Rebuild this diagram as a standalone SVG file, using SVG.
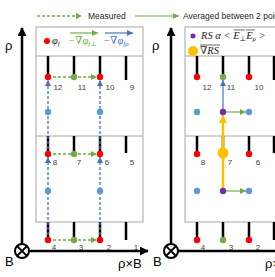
<svg xmlns="http://www.w3.org/2000/svg" width="275" height="277" viewBox="0 0 275 277">
<defs>
<style>
.box{fill:none;stroke:#A6A6A6;stroke-width:1}
.stick{stroke:#000;stroke-width:2.5}
.ax{stroke:#000;stroke-width:2.5;fill:none}
.lbl{font-family:"Liberation Sans",Arial,sans-serif;font-size:8px;fill:#404040;text-anchor:middle}
.leg{font-family:"Liberation Sans",Arial,sans-serif;font-size:8.5px;fill:#262626}
.axl{font-family:"Liberation Sans",Arial,sans-serif;font-size:13px;fill:#000}
.math{font-family:"Liberation Serif","DejaVu Serif",serif;font-style:italic;font-size:10.5px}
.sub{font-size:7px}
.red{fill:#FF0000}.grn{fill:#70AD47}.blu{fill:#5B9BD5}.pur{fill:#7030A0}.yel{fill:#FFC000}
.gd{stroke:#70AD47;stroke-width:1.3;stroke-dasharray:3 2;fill:none}
.bd{stroke:#4472C4;stroke-width:1.3;stroke-dasharray:3 2;fill:none}
.gs{stroke:#70AD47;stroke-width:1.2;fill:none}
.bs{stroke:#4472C4;stroke-width:1.2;fill:none}
.ys{stroke:#FFC000;stroke-width:2.5;fill:none}
</style>
<marker id="ag" viewBox="0 0 10 10" refX="10" refY="5" markerWidth="6" markerHeight="6" markerUnits="userSpaceOnUse" orient="auto"><path d="M0,0 L10,5 L0,10 z" fill="#70AD47"/></marker>
<marker id="ab" viewBox="0 0 10 10" refX="10" refY="5" markerWidth="6" markerHeight="6" markerUnits="userSpaceOnUse" orient="auto"><path d="M0,0 L10,5 L0,10 z" fill="#4472C4"/></marker>
<marker id="ay" viewBox="0 0 10 10" refX="10" refY="5" markerWidth="8" markerHeight="8" markerUnits="userSpaceOnUse" orient="auto"><path d="M0,0 L10,5 L0,10 z" fill="#FFC000"/></marker>
<marker id="ak" viewBox="0 0 10 10" refX="9" refY="5" markerWidth="9" markerHeight="9" markerUnits="userSpaceOnUse" orient="auto"><path d="M0,0 L10,5 L0,10 z" fill="#000"/></marker>
</defs>
<rect width="275" height="277" fill="#fff"/>

<!-- top legend -->
<g id="legend-top">
<line class="gd" x1="37" y1="16" x2="82" y2="16" marker-end="url(#ag)"/>
<text class="leg" x="88" y="19">Measured</text>
<line class="gs" x1="135" y1="16" x2="179" y2="16" marker-end="url(#ag)"/>
<text class="leg" x="183" y="19">Averaged between 2 points</text>
</g>

<!-- left panel frame -->
<g id="left-frame">
<rect class="box" x="36" y="27" width="107" height="195"/>
<line class="box" x1="36" y1="56" x2="143" y2="56"/>
<line class="box" x1="36" y1="136" x2="143" y2="136"/>
</g>
<g id="left-legend">
<circle class="red" cx="47" cy="41" r="3"/>
<text class="math" x="52" y="44" fill="#262626">φ<tspan class="sub" dy="2">f</tspan></text>
<line class="gs" x1="70" y1="33" x2="98" y2="33" marker-end="url(#ag)"/>
<text class="math" x="68" y="44" fill="#70AD47">−∇φ<tspan class="sub" dy="2">f⊥</tspan></text>
<line class="bs" x1="105" y1="33" x2="133" y2="33" marker-end="url(#ab)"/>
<text class="math" x="103" y="44" fill="#4472C4">−∇φ<tspan class="sub" dy="2">fρ</tspan></text>
</g>

<!-- right panel frame -->
<g id="right-frame">
<rect class="box" x="185" y="27" width="110" height="195"/>
<line class="box" x1="185" y1="56" x2="275" y2="56"/>
<line class="box" x1="185" y1="136" x2="275" y2="136"/>
</g>
<g id="right-legend">
<circle class="pur" cx="193" cy="36" r="2.5"/>
<text class="math" x="201" y="39" fill="#262626">RS α &lt; E<tspan class="sub" dy="2">⊥</tspan><tspan dy="-2">E</tspan><tspan class="sub" dy="2">ρ</tspan><tspan dy="-2"> &gt;</tspan></text>
<line x1="234" y1="30" x2="245" y2="30" stroke="#262626" stroke-width="0.7"/>
<line x1="246" y1="30" x2="255" y2="30" stroke="#262626" stroke-width="0.7"/>
<circle class="yel" cx="193" cy="51" r="5"/>
<text class="math" x="200" y="54" fill="#262626">∇RS</text>
<line x1="200" y1="45" x2="220" y2="45" stroke="#262626" stroke-width="0.7"/>
</g>

<!-- sticks -->
<g id="sticks">
<line class="stick" x1="48" y1="56" x2="48" y2="77"/>
<line class="stick" x1="74" y1="56" x2="74" y2="77"/>
<line class="stick" x1="100" y1="56" x2="100" y2="77"/>
<line class="stick" x1="126" y1="56" x2="126" y2="80"/>
<line class="stick" x1="48" y1="136" x2="48" y2="154"/>
<line class="stick" x1="74" y1="136" x2="74" y2="154"/>
<line class="stick" x1="100" y1="136" x2="100" y2="154"/>
<line class="stick" x1="126" y1="136" x2="126" y2="153"/>
<line class="stick" x1="48" y1="222" x2="48" y2="240"/>
<line class="stick" x1="74" y1="222" x2="74" y2="240"/>
<line class="stick" x1="100" y1="222" x2="100" y2="240"/>
<line class="stick" x1="126" y1="222" x2="126" y2="240"/>
<line class="stick" x1="197" y1="56" x2="197" y2="77"/>
<line class="stick" x1="223" y1="56" x2="223" y2="77"/>
<line class="stick" x1="249" y1="56" x2="249" y2="77"/>
<line class="stick" x1="274" y1="56" x2="274" y2="80"/>
<line class="stick" x1="197" y1="136" x2="197" y2="154"/>
<line class="stick" x1="223" y1="136" x2="223" y2="154"/>
<line class="stick" x1="249" y1="136" x2="249" y2="154"/>
<line class="stick" x1="274" y1="136" x2="274" y2="153"/>
<line class="stick" x1="197" y1="222" x2="197" y2="240"/>
<line class="stick" x1="223" y1="222" x2="223" y2="240"/>
<line class="stick" x1="249" y1="222" x2="249" y2="240"/>
<line class="stick" x1="274" y1="222" x2="274" y2="240"/>
</g>

<!-- axes -->
<g id="axes">
<line class="ax" x1="22" y1="244" x2="22" y2="28" marker-end="url(#ak)"/>
<line class="ax" x1="29" y1="251" x2="148" y2="251" marker-end="url(#ak)"/>
<circle cx="22" cy="251" r="7" fill="#fff" stroke="#000" stroke-width="2"/>
<path d="M17.5,246.5 L26.5,255.5 M26.5,246.5 L17.5,255.5" stroke="#000" stroke-width="1.8"/>
<line class="ax" x1="171" y1="244" x2="171" y2="28" marker-end="url(#ak)"/>
<line class="ax" x1="178" y1="251" x2="280" y2="251"/>
<circle cx="171" cy="251" r="7" fill="#fff" stroke="#000" stroke-width="2"/>
<path d="M166.5,246.5 L175.5,255.5 M175.5,246.5 L166.5,255.5" stroke="#000" stroke-width="1.8"/>
<text class="axl" x="5" y="50">ρ</text>
<text class="axl" x="5" y="266">B</text>
<text class="axl" x="118" y="268">ρ×B</text>
<text class="axl" x="152" y="50">ρ</text>
<text class="axl" x="153" y="266">B</text>
<text class="axl" x="265" y="268">ρ×B</text>
</g>

<!-- connectors -->
<g id="connectors">
<line class="gd" x1="48" y1="77" x2="97" y2="77" marker-end="url(#ag)"/>
<line class="gd" x1="48" y1="154" x2="97" y2="154" marker-end="url(#ag)"/>
<line class="gd" x1="48" y1="240" x2="97" y2="240" marker-end="url(#ag)"/>
<line class="bd" x1="48" y1="240" x2="48" y2="157" marker-end="url(#ab)"/>
<line class="bd" x1="48" y1="154" x2="48" y2="80" marker-end="url(#ab)"/>
<line class="bd" x1="100" y1="240" x2="100" y2="157" marker-end="url(#ab)"/>
<line class="bd" x1="100" y1="154" x2="100" y2="80" marker-end="url(#ab)"/>
<line class="ys" x1="223" y1="191" x2="223" y2="115" marker-end="url(#ay)"/>
<line class="bs" x1="223" y1="112" x2="223" y2="80" marker-end="url(#ab)"/>
<line class="gs" x1="223" y1="112" x2="246" y2="112" marker-end="url(#ag)"/>
<line class="gs" x1="223" y1="191" x2="246" y2="191" marker-end="url(#ag)"/>
</g>

<!-- nodes (points) -->
<g id="left-points">
<circle class="red" cx="48" cy="77" r="3.2"/><circle class="grn" cx="74" cy="77" r="3.2"/><circle class="red" cx="100" cy="77" r="3.2"/>
<circle class="red" cx="48" cy="154" r="3.2"/><circle class="grn" cx="74" cy="154" r="3.2"/><circle class="red" cx="100" cy="154" r="3.2"/>
<circle class="red" cx="48" cy="240" r="3.2"/><circle class="grn" cx="74" cy="240" r="3.2"/><circle class="red" cx="100" cy="240" r="3.2"/>
<circle class="blu" cx="48" cy="112" r="3.2"/><circle class="blu" cx="100" cy="112" r="3.2"/>
<circle class="blu" cx="48" cy="191" r="3.2"/><circle class="blu" cx="100" cy="191" r="3.2"/>
</g>
<g id="right-points">
<circle class="red" cx="197" cy="77" r="3.2"/><circle class="grn" cx="223" cy="77" r="3.2"/><circle class="red" cx="249" cy="77" r="3.2"/>
<circle class="red" cx="197" cy="154" r="3.2"/><circle class="yel" cx="223" cy="153" r="5.5"/><circle class="red" cx="249" cy="154" r="3.2"/>
<circle class="red" cx="197" cy="240" r="3.2"/><circle class="grn" cx="223" cy="240" r="3.2"/><circle class="red" cx="249" cy="240" r="3.2"/>
<circle class="blu" cx="197" cy="112" r="3.2"/><circle class="pur" cx="223" cy="112" r="3.2"/><circle class="blu" cx="249" cy="112" r="3.2"/>
<circle class="blu" cx="197" cy="191" r="3.2"/><circle class="pur" cx="223" cy="191" r="3.2"/><circle class="blu" cx="249" cy="191" r="3.2"/>
</g>

<!-- labels -->
<g id="labels">
<text class="lbl" x="58" y="90">12</text><text class="lbl" x="82" y="90">11</text><text class="lbl" x="110" y="90">10</text><text class="lbl" x="132" y="90">9</text>
<text class="lbl" x="55" y="165">8</text><text class="lbl" x="79" y="165">7</text><text class="lbl" x="107" y="165">6</text><text class="lbl" x="132" y="165">5</text>
<text class="lbl" x="54" y="250">4</text><text class="lbl" x="81" y="250">3</text><text class="lbl" x="109" y="250">2</text><text class="lbl" x="136" y="250">1</text>
<text class="lbl" x="207" y="90">12</text><text class="lbl" x="231" y="90">11</text><text class="lbl" x="259" y="90">10</text>
<text class="lbl" x="203" y="165">8</text><text class="lbl" x="230" y="165">7</text><text class="lbl" x="258" y="165">6</text>
<text class="lbl" x="203" y="250">4</text><text class="lbl" x="231" y="250">3</text><text class="lbl" x="258" y="250">2</text>
</g>
</svg>
